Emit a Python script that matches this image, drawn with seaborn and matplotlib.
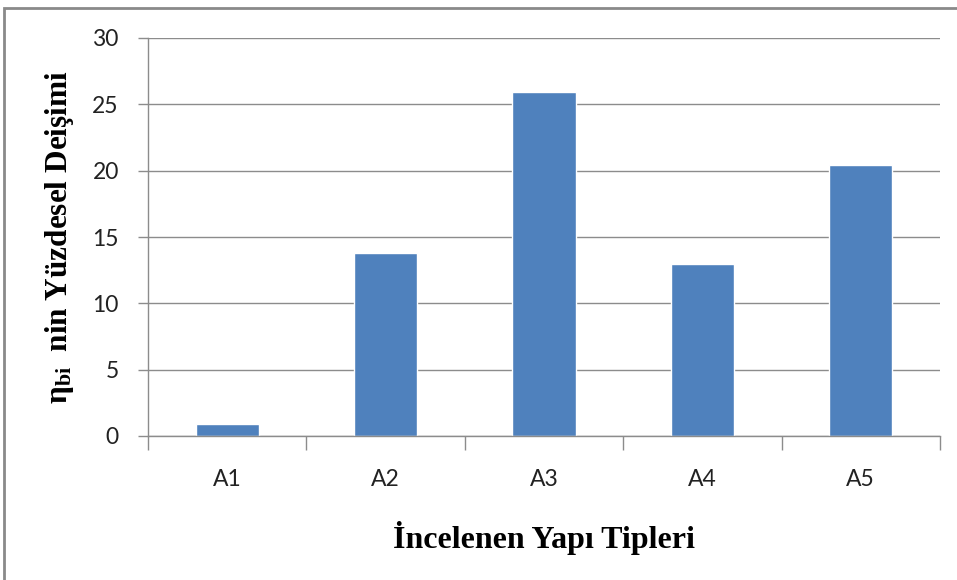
import matplotlib
matplotlib.use("Agg")
import matplotlib.pyplot as plt
import seaborn as sns
import pandas as pd
import numpy as np
from matplotlib.patches import Rectangle
from matplotlib.ticker import FixedLocator

categories = ["A1", "A2", "A3", "A4", "A5"]
values = [0.9, 13.8, 25.95, 12.95, 20.4]
yticks = [0, 5, 10, 15, 20, 25, 30]

sns.set_theme(style="white")
plt.rcParams['font.family'] = ['Lato', 'DejaVu Sans']
plt.rcParams['mathtext.fontset'] = 'custom'
plt.rcParams['mathtext.rm'] = 'Liberation Serif:bold'
plt.rcParams['mathtext.it'] = 'Liberation Serif:bold'
plt.rcParams['mathtext.bf'] = 'Liberation Serif:bold'

df = pd.DataFrame({"cat": categories, "val": values})

fig = plt.figure(figsize=(9.57, 5.8), dpi=100)
ax = fig.add_axes([148/957, 1-436/580, (940-148)/957, (436-38)/580])

sns.barplot(data=df, x="cat", y="val", color="#4F81BD", saturation=1, width=0.4, ax=ax)

ax.set_ylim(0, 30)
ax.set_xlim(-0.5, 4.5)
ax.set_yticks(yticks)
ax.yaxis.grid(True, color="#8C8C8C", linewidth=1)
ax.set_axisbelow(True)
for s in ["top", "right"]:
    ax.spines[s].set_visible(False)
for s in ["left", "bottom"]:
    ax.spines[s].set_color("#8C8C8C")
    ax.spines[s].set_linewidth(1)

ax.tick_params(axis="y", which="major", left=True, length=7, width=1, color="#8C8C8C",
               pad=14, labelsize=16.5, labelcolor="#222222")
ax.tick_params(axis="x", which="major", bottom=False, length=0, pad=24, labelsize=16.5,
               labelcolor="#222222")
ax.xaxis.set_minor_locator(FixedLocator(np.arange(-0.5, 5.0, 1.0)))
ax.tick_params(axis="x", which="minor", bottom=True, length=10, width=1, color="#8C8C8C")

ax.set_xlabel("İncelenen Yapı Tipleri", family="Liberation Serif", fontweight="bold",
              fontsize=23, labelpad=22, color="black")
ax.set_ylabel(r"η$_{bi}$  nin Yüzdesel Deişimi", family="Liberation Serif",
              fontweight="bold", fontsize=22.5, labelpad=12, color="black")

fig.patches.append(Rectangle((4/957, -0.05), 1.2, 1 - 8/580 + 0.05, transform=fig.transFigure,
                             fill=False, edgecolor="#8A8A8A", linewidth=2, zorder=10))

fig.savefig("out.png", dpi=100)
